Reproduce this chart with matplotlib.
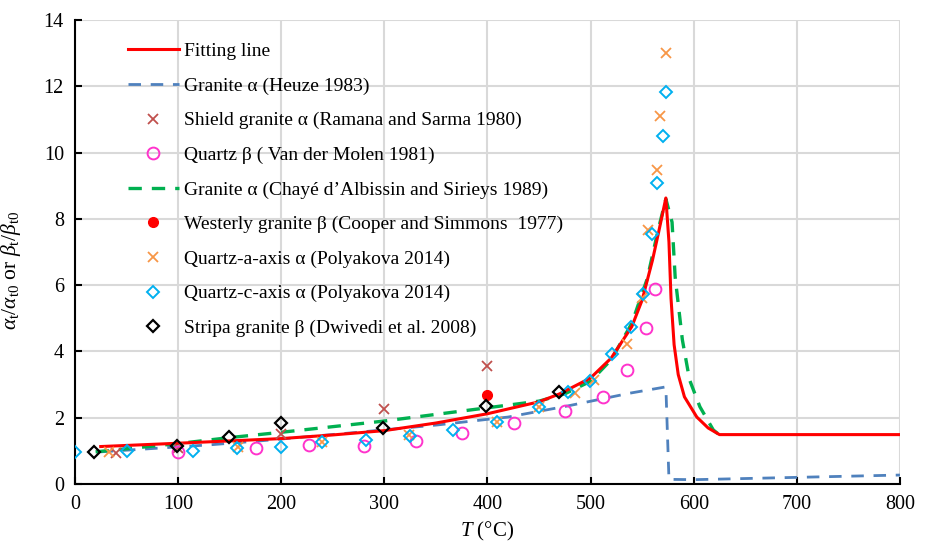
import matplotlib
matplotlib.use("Agg")
import matplotlib.pyplot as plt

plt.rcParams['font.family'] = ['Liberation Serif', 'DejaVu Serif']
plt.rcParams['mathtext.fontset'] = 'custom'
plt.rcParams['mathtext.rm'] = 'Liberation Serif'
plt.rcParams['mathtext.it'] = 'Liberation Serif:italic'

# ----------------------------
# Data
# ----------------------------
fit_T = [25, 100, 150, 200, 250, 300, 350, 400, 450, 470, 500, 520, 540, 550, 560, 566, 573,
         576, 578, 581, 585, 591, 603, 614, 625, 800]
fit_v = [1.13, 1.23, 1.30, 1.37, 1.48, 1.61, 1.84, 2.12, 2.48, 2.72, 3.2, 3.8, 4.75, 5.55, 6.75, 7.6, 8.63,
         7.3, 5.6, 4.2, 3.3, 2.63, 2.02, 1.69, 1.49, 1.49]

heuze_T = [25, 80, 130, 179, 267, 351, 420, 477, 538, 573, 576, 600, 800]
heuze_v = [0.97, 1.08, 1.18, 1.30, 1.54, 1.78, 2.02, 2.35, 2.74, 2.93, 0.14, 0.13, 0.27]

chaye_T = [20, 100, 150, 200, 300, 400, 450, 475, 500, 520, 540, 555, 565, 573,
           579, 582, 589, 596, 606, 619, 625]
chaye_v = [0.97, 1.22, 1.40, 1.56, 1.90, 2.30, 2.50, 2.72, 3.1, 3.75, 4.85, 6.2, 7.6, 8.6,
           7.9, 6.25, 4.35, 3.14, 2.33, 1.63, 1.48]

shield_T = [40, 100, 200, 300, 400]
shield_v = [0.93, 1.10, 1.52, 2.26, 3.57]

quartz_b_T = [100, 176, 227, 280, 331, 375, 426, 475, 512, 535, 554, 562]
quartz_b_v = [0.97, 1.09, 1.18, 1.15, 1.30, 1.54, 1.85, 2.19, 2.62, 3.44, 4.70, 5.88]

westerly_T = [400]
westerly_v = [2.68]

qa_T = [33, 158, 240, 324, 409, 450, 485, 503, 535, 550, 556, 564, 567, 573]
qa_v = [0.97, 1.12, 1.27, 1.48, 1.87, 2.32, 2.75, 3.14, 4.22, 5.6, 7.65, 9.47, 11.1, 13.0]

qc_T = [0, 50, 114, 157, 200, 240, 282, 325, 367, 409, 450, 478, 499, 521, 539, 551, 560, 564, 570, 573]
qc_v = [0.97, 1.01, 1.01, 1.08, 1.13, 1.27, 1.33, 1.45, 1.63, 1.87, 2.32, 2.77, 3.12, 3.92, 4.74, 5.73, 7.55,
        9.08, 10.5, 11.83]

stripa_T = [18, 99, 149, 200, 299, 399, 469]
stripa_v = [0.97, 1.15, 1.42, 1.84, 1.69, 2.35, 2.78]

# ----------------------------
# Plot
# ----------------------------
fig = plt.figure(figsize=(9.3, 5.48), dpi=100)
ax = fig.add_axes([0.0806, 0.1168, 0.8871, 0.8467])

ax.plot(fit_T, fit_v, color='#FF0000', lw=2.2, zorder=4, label='Fitting line')
ax.plot(heuze_T, heuze_v, color='#4F81BD', lw=2.0, ls=(0, (4.5, 3.5)), zorder=3,
        label='Granite α (Heuze 1983)')
ax.plot(shield_T, shield_v, ls='none', marker='x', ms=7, mew=1.3, color='#C0504D', zorder=5,
        label='Shield granite α (Ramana and Sarma 1980)')
ax.plot(quartz_b_T, quartz_b_v, ls='none', marker='o', ms=8.5, mew=1.4, mfc='none', color='#FF33CC',
        zorder=5, label='Quartz β ( Van der Molen 1981)')
ax.plot(chaye_T, chaye_v, color='#00B050', lw=2.4, ls=(0, (4, 3)), zorder=3,
        label='Granite α (Chayé d’Albissin and Sirieys 1989)')
ax.plot(westerly_T, westerly_v, ls='none', marker='o', ms=7, color='#FF0000', zorder=5,
        label='Westerly granite β (Cooper and Simmons  1977)')
ax.plot(qa_T, qa_v, ls='none', marker='x', ms=7.5, mew=1.3, color='#F79646', zorder=5,
        label='Quartz-a-axis α (Polyakova 2014)')
ax.plot(qc_T, qc_v, ls='none', marker='D', ms=6, mew=1.4, mfc='none', color='#00B0F0', zorder=6,
        label='Quartz-c-axis α (Polyakova 2014)')
ax.plot(stripa_T, stripa_v, ls='none', marker='D', ms=6, mew=1.6, mfc='none', color='black', zorder=7,
        label='Stripa granite β (Dwivedi et al. 2008)')

ax.set_xlim(0, 800)
ax.set_ylim(0, 14)
ax.set_xticks(range(0, 801, 100))
ax.set_yticks(range(0, 15, 2))
ax.grid(True, color='#D9D9D9', lw=1.5)
ax.set_axisbelow(True)
for s in ['top', 'right']:
    ax.spines[s].set_visible(False)
for s in ['left', 'bottom']:
    ax.spines[s].set_linewidth(1.5)
ax.tick_params(direction='in', length=5, width=1.5, labelsize=14.5, pad=8)

ax.set_xlabel(r'$T$ (°C)', fontsize=15, labelpad=4)
ax.set_ylabel(r'$\alpha_\mathrm{t}/\alpha_\mathrm{t0}$ or $\beta_\mathrm{t}/\beta_\mathrm{t0}$', fontsize=15.5)
ax.yaxis.set_label_coords(-0.063, 0.46)

ax.legend(loc='upper left', bbox_to_anchor=(0.055, 0.968), frameon=False, fontsize=14,
          handlelength=2.6, handletextpad=0.25, labelspacing=0.87, borderaxespad=0)

fig.savefig('out.png', dpi=100)
